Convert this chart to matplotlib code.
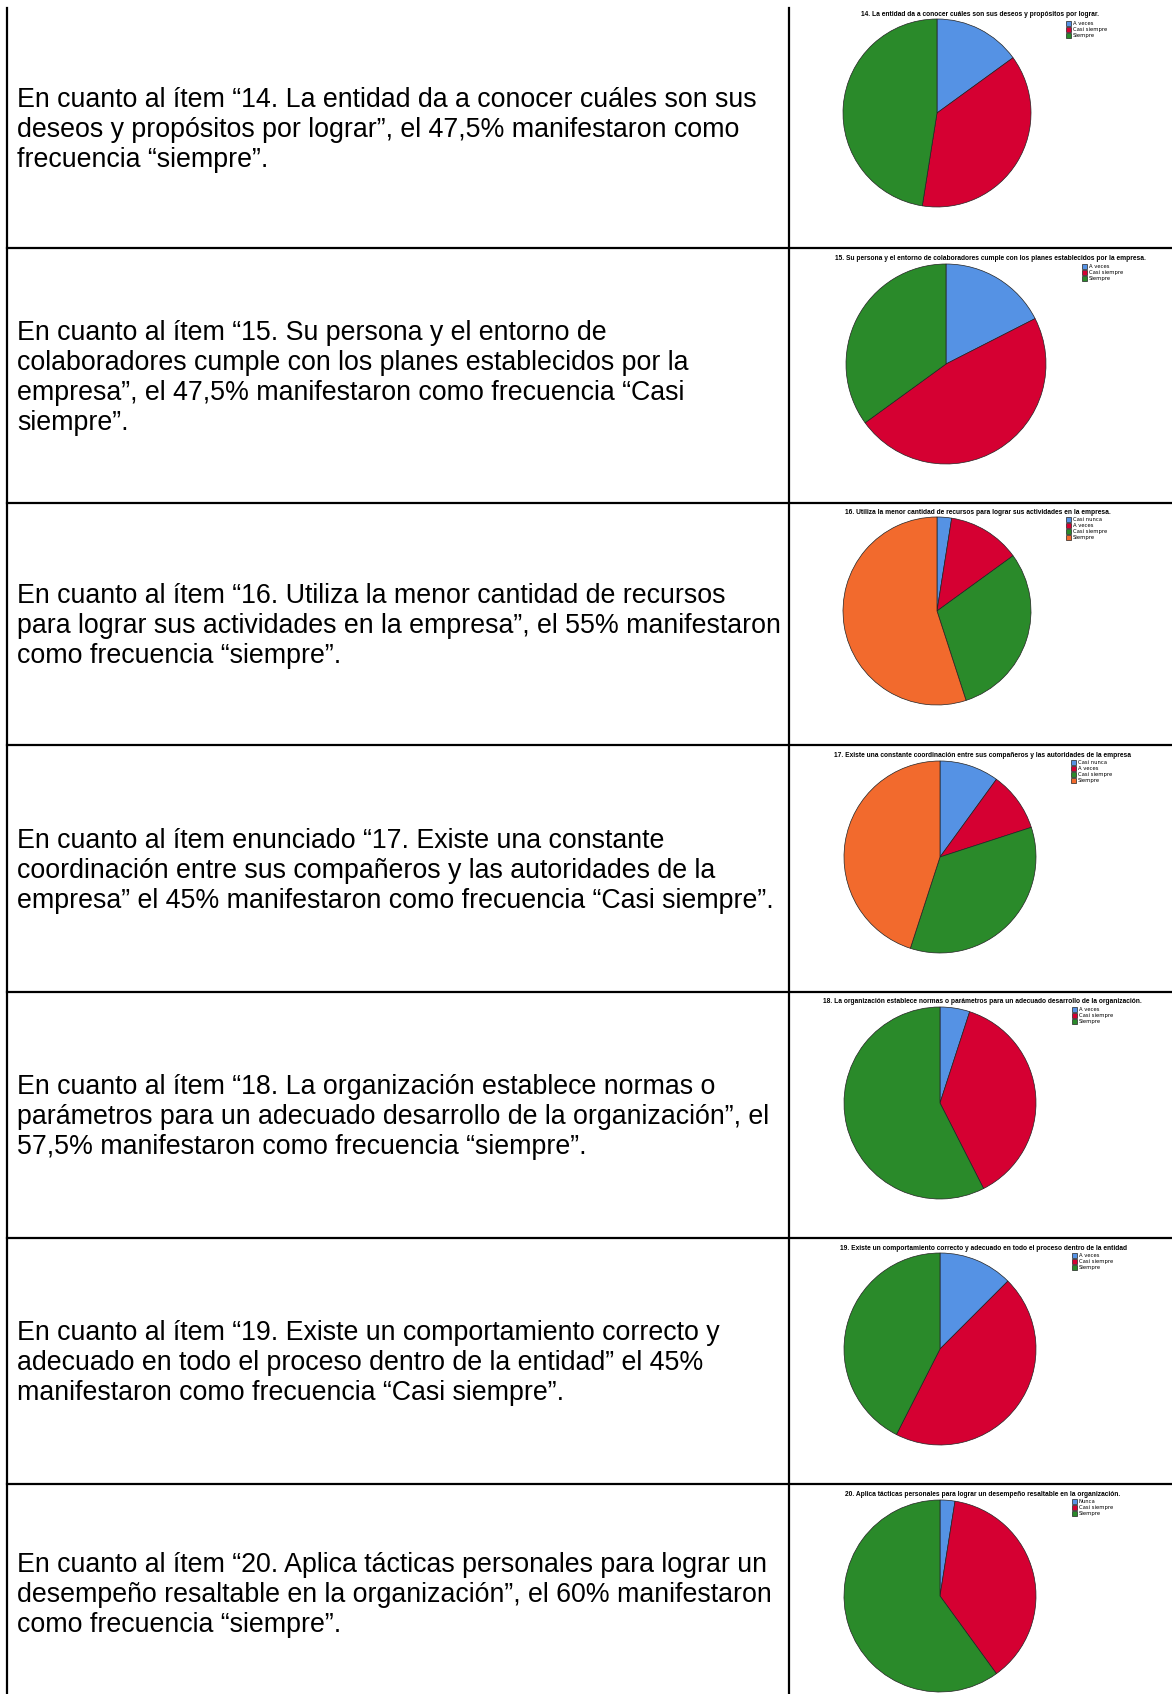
import matplotlib
matplotlib.use("Agg")
import matplotlib.pyplot as plt

# textos de la columna izquierda (una lista de lineas por fila)
textos = [
    ["En cuanto al ítem “14. La entidad da a conocer cuáles son sus",
     "deseos y propósitos por lograr”, el 47,5% manifestaron como",
     "frecuencia “siempre”."],
    ["En cuanto al ítem “15. Su persona y el entorno de",
     "colaboradores cumple con los planes establecidos por la",
     "empresa”, el 47,5% manifestaron como frecuencia “Casi",
     "siempre”."],
    ["En cuanto al ítem “16. Utiliza la menor cantidad de recursos",
     "para lograr sus actividades en la empresa”, el 55% manifestaron",
     "como frecuencia “siempre”."],
    ["En cuanto al ítem enunciado “17. Existe una constante",
     "coordinación entre sus compañeros y las autoridades de la",
     "empresa” el 45% manifestaron como frecuencia “Casi siempre”."],
    ["En cuanto al ítem “18. La organización establece normas o",
     "parámetros para un adecuado desarrollo de la organización”, el",
     "57,5% manifestaron como frecuencia “siempre”."],
    ["En cuanto al ítem “19. Existe un comportamiento correcto y",
     "adecuado en todo el proceso dentro de la entidad” el 45%",
     "manifestaron como frecuencia “Casi siempre”."],
    ["En cuanto al ítem “20. Aplica tácticas personales para lograr un",
     "desempeño resaltable en la organización”, el 60% manifestaron",
     "como frecuencia “siempre”."],
]

# titulos de los graficos de pastel
titulos = [
    "14. La entidad da a conocer cuáles son sus deseos y propósitos por lograr.",
    "15. Su persona y el entorno de colaboradores cumple con los planes establecidos por la empresa.",
    "16. Utiliza la menor cantidad de recursos para lograr sus actividades en la empresa.",
    "17. Existe una constante coordinación entre sus compañeros y las autoridades de la empresa",
    "18. La organización establece normas o parámetros para un adecuado desarrollo de la organización.",
    "19. Existe un comportamiento correcto y adecuado en todo el proceso dentro de la entidad",
    "20. Aplica tácticas personales para lograr un desempeño resaltable en la organización.",
]

# categorias de cada grafico
categorias = [
    ["A veces", "Casi siempre", "Siempre"],
    ["A veces", "Casi siempre", "Siempre"],
    ["Casi nunca", "A veces", "Casi siempre", "Siempre"],
    ["Casi nunca", "A veces", "Casi siempre", "Siempre"],
    ["A veces", "Casi siempre", "Siempre"],
    ["A veces", "Casi siempre", "Siempre"],
    ["Nunca", "Casi siempre", "Siempre"],
]

# porcentajes (%)
porcentajes = [
    [15.0, 37.5, 47.5],
    [17.5, 47.5, 35.0],
    [2.5, 12.5, 30.0, 55.0],
    [10.0, 10.0, 35.0, 45.0],
    [5.0, 37.5, 57.5],
    [12.5, 45.0, 42.5],
    [2.5, 37.5, 60.0],
]

colores_3 = ["#5592E4", "#D50032", "#2A8A2A"]
colores_4 = ["#5592E4", "#D50032", "#2A8A2A", "#F26A2D"]

# ---- layout en pixeles ----
W, H = 1172, 1694
fig = plt.figure(figsize=(W / 100, H / 100), dpi=100)
fig.patch.set_facecolor("white")

def fx(x):
    return x / W

def fy(y):
    return 1 - y / H

bordes = [8, 248, 503, 745, 992, 1238, 1484, 1704]
x_izq, x_mid = 7, 789
centros = [(937, 113, 94), (946, 364, 100), (937, 611, 94), (940, 857, 96),
           (940, 1103, 96), (940, 1349, 96), (940, 1596, 96)]
titulo_pos = [(980, 15), (990, 258), (978, 513), (982, 755),
              (982, 1001), (983, 1248), (983, 1494)]
leyenda_pos = [(1066, 21), (1082, 264), (1066, 517), (1071, 760),
               (1072, 1007), (1072, 1253), (1072, 1499)]

lineas = fig.add_axes([0, 0, 1, 1])
lineas.set_xlim(0, W)
lineas.set_ylim(H, 0)
lineas.axis("off")
lineas.plot([x_izq, x_izq], [bordes[0], H], color="black", lw=1.6)
lineas.plot([x_mid, x_mid], [bordes[0], H], color="black", lw=1.6)
for b in bordes[1:-1]:
    lineas.plot([x_izq, W], [b, b], color="black", lw=1.6)

for i, lin in enumerate(textos):
    yc = (bordes[i] + bordes[i + 1]) / 2 + 2
    if i == len(textos) - 1:
        yc = 1595
    fig.text(fx(17), fy(yc), "\n".join(lin), ha="left", va="center",
             fontsize=19.3, family="Liberation Sans", linespacing=1.2)

for i in range(len(titulos)):
    cx, cy, r = centros[i]
    ax = fig.add_axes([fx(cx - r), fy(cy + r), 2 * r / W, 2 * r / H])
    cols = colores_4 if len(categorias[i]) == 4 else colores_3
    cuñas, _ = ax.pie(porcentajes[i], colors=cols, startangle=90,
                      counterclock=False, radius=1,
                      wedgeprops=dict(edgecolor="#222222", linewidth=0.5))
    ax.set_xlim(-1, 1)
    ax.set_ylim(-1, 1)
    ax.set_aspect("auto")
    tx, ty = titulo_pos[i]
    fig.text(fx(tx), fy(ty), titulos[i], ha="center", va="center",
             fontsize=4.8, fontweight="bold", family="Liberation Sans")
    lx, ly = leyenda_pos[i]
    ax.legend(cuñas, categorias[i], loc="upper left",
              bbox_to_anchor=(fx(lx), fy(ly)), bbox_transform=fig.transFigure,
              frameon=False, fontsize=3.8, handlelength=1.0, handleheight=1.0,
              handletextpad=0.3, labelspacing=0.15, borderpad=0, borderaxespad=0)

fig.savefig("out.png", dpi=100)
